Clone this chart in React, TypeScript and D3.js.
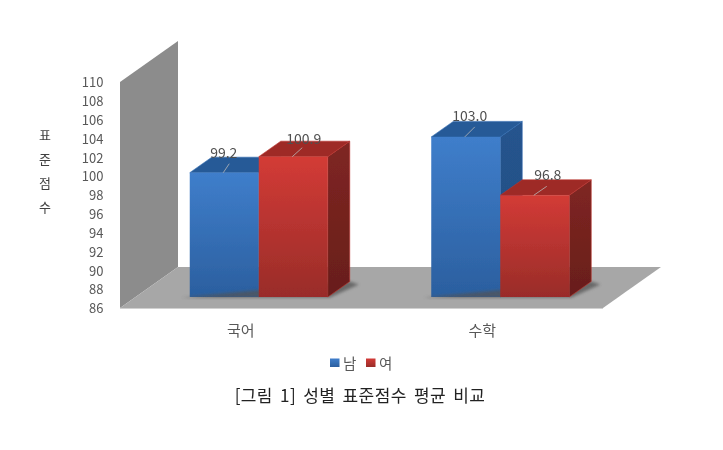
import React, {useEffect, useRef} from 'react';
import * as d3 from 'd3';

const categories = ['국어', '수학'];
const seriesNames = ['남', '여'];
const maleValues = [99.2, 103.0];
const femaleValues = [100.9, 96.8];
const yTicks = [86, 88, 90, 92, 94, 96, 98, 100, 102, 104, 106, 108, 110];
const yTitle = ['표', '준', '점', '수'];
const caption = '[그림 1] 성별 표준점수 평균 비교';

const fontFamily = '"Noto Sans CJK KR", "Liberation Sans", sans-serif';
const textColor = '#585858';

// wall/floor depth and the shift of the bars into the box
const depthX = 58;
const depthY = -41;
const barShiftX = 18;
const barShiftY = -11;
const barDepthX = 22;
const barDepthY = -15.5;

// hand placed data labels in the original: [dx, dy] from the middle of each bar top
const labelOffsets = [[[-0.5, -15], [10.5, -13]], [[4, -16], [13, -15]]];
const leaderEnds = [[[6, -9], [10, -9]], [[10, -10], [13, -9]]];

const palettes = [
  {top: '#3f7ecb', bottom: '#2b5f9f', lid: '#265a97', side: '#25548e',
    sideLow: '#234d80', edge: '#2f69b0'},
  {top: '#d33b36', bottom: '#992c29', lid: '#9e2a26', side: '#7f2622',
    sideLow: '#681e1b', edge: '#bb332e'},
];

function poly(points: Array<[number, number]>) {
  return d3.line()(points) + 'Z';
}

export default function App() {
  const ref = useRef<SVGSVGElement>(null);

  useEffect(() => {
    const svg = d3.select(ref.current);
    svg.selectAll('*').remove();

    const x = d3.scaleBand<string>().domain(categories).range([120, 603]);
    const y = d3.scaleLinear().domain([86, 110]).range([308, 82]);
    const inner = d3.scaleBand<string>()
        .domain(seriesNames)
        .range([0, x.bandwidth()])
        .paddingInner(0)
        .paddingOuter(0.75);

    const defs = svg.append('defs');
    const soft = defs.append('filter').attr('id', 'soft')
        .attr('x', '-5%').attr('y', '-5%')
        .attr('width', '110%').attr('height', '110%');
    soft.append('feGaussianBlur').attr('stdDeviation', 0.5);
    const shadowBlur = defs.append('filter').attr('id', 'shadowBlur');
    shadowBlur.append('feGaussianBlur').attr('stdDeviation', 1.5);

    palettes.forEach((p, i) => {
      const front = defs.append('linearGradient').attr('id', `front${i}`)
          .attr('x1', 0).attr('y1', 0).attr('x2', 0).attr('y2', 1);
      front.append('stop').attr('offset', '0%').attr('stop-color', p.top);
      front.append('stop').attr('offset', '100%').attr('stop-color', p.bottom);
      const side = defs.append('linearGradient').attr('id', `side${i}`)
          .attr('x1', 0).attr('y1', 0).attr('x2', 0).attr('y2', 1);
      side.append('stop').attr('offset', '0%').attr('stop-color', p.side);
      side.append('stop').attr('offset', '100%').attr('stop-color', p.sideLow);
    });

    const root = svg.append('g').attr('filter', 'url(#soft)');

    const [x0, x1] = x.range();
    const y0 = y(86);
    const yTop = y(110);

    // back wall and floor
    root.append('path')
        .attr('d', poly([[x0, y0], [x0, yTop], [x0 + depthX, yTop + depthY],
          [x0 + depthX, y0 + depthY]]))
        .attr('fill', '#8c8c8c');
    root.append('path')
        .attr('d', poly([[x0, y0], [x1, y0], [x1 + depthX, y0 + depthY],
          [x0 + depthX, y0 + depthY]]))
        .attr('fill', '#a7a7a7');
    root.append('line')
        .attr('x1', x0).attr('x2', x1).attr('y1', y0 + 0.5).attr('y2', y0 + 0.5)
        .attr('stroke', '#d0d0d0').attr('stroke-width', 1);

    // y ticks
    const axis = root.append('g')
        .attr('transform', 'translate(103.5,0.5)')
        .call(d3.axisLeft(y).tickValues(yTicks).tickSize(0).tickPadding(0));
    axis.select('.domain').remove();
    axis.selectAll('text')
        .attr('font-family', fontFamily)
        .attr('font-size', 13)
        .attr('fill', textColor);

    // y title, one character per line
    root.append('g').selectAll('text').data(yTitle).join('text')
        .attr('x', 45)
        .attr('y', (d, i) => 135 + i * 24.2)
        .attr('dy', '0.35em')
        .attr('text-anchor', 'middle')
        .attr('font-family', fontFamily)
        .attr('font-size', 13)
        .attr('fill', '#404040')
        .text((d) => d);

    // bars
    const series = [maleValues, femaleValues];
    categories.forEach((cat, c) => {
      seriesNames.forEach((name, s) => {
        const value = series[s][c];
        const left = x(cat)! + inner(name)! + barShiftX;
        const right = left + inner.bandwidth();
        const base = y(86) + barShiftY;
        const top = y(value) + barShiftY;
        const g = root.append('g');

        // floor shadow
        if (s === 1) {
          g.append('path')
              .attr('d', poly([[left - inner.bandwidth() - 8, base + 0.5], [right + 2, base + 0.5],
                [right + barDepthX + 9, base + barDepthY + 3], [right + barDepthX, base + barDepthY]]))
              .attr('fill', '#555555')
              .attr('opacity', 0.75)
              .attr('filter', 'url(#shadowBlur)');
        }
        g.append('path')
            .attr('d', poly([[right, base], [right, top],
              [right + barDepthX, top + barDepthY], [right + barDepthX, base + barDepthY]]))
            .attr('fill', `url(#side${s})`)
            .attr('stroke', palettes[s].edge)
            .attr('stroke-width', 0.6);
        g.append('path')
            .attr('d', poly([[left, top], [right, top],
              [right + barDepthX, top + barDepthY], [left + barDepthX, top + barDepthY]]))
            .attr('fill', palettes[s].lid)
            .attr('stroke', palettes[s].edge)
            .attr('stroke-width', 0.6);
        g.append('rect')
            .attr('x', left).attr('y', top)
            .attr('width', inner.bandwidth()).attr('height', base - top)
            .attr('fill', `url(#front${s})`);
      });
    });

    // value labels with their little leader lines
    categories.forEach((cat, c) => {
      seriesNames.forEach((name, s) => {
        const value = series[s][c];
        const mid = x(cat)! + inner(name)! + barShiftX + inner.bandwidth() / 2;
        const top = y(value) + barShiftY;
        const [lx, ly] = labelOffsets[c][s];
        const [ex, ey] = leaderEnds[c][s];
        root.append('line')
            .attr('x1', mid - 1).attr('y1', top)
            .attr('x2', mid - 1 + ex).attr('y2', top + ey)
            .attr('stroke', '#b9b9b9').attr('stroke-width', 0.8);
        root.append('text')
            .attr('x', mid + lx)
            .attr('y', top + ly)
            .attr('text-anchor', 'middle')
            .attr('font-family', fontFamily)
            .attr('font-size', 14)
            .attr('fill', '#505050')
            .text(value.toFixed(1));
      });
    });

    // category labels
    root.append('g').selectAll('text').data(categories).join('text')
        .attr('x', (d) => x(d)! + x.bandwidth() / 2)
        .attr('y', 331)
        .attr('dy', '0.35em')
        .attr('text-anchor', 'middle')
        .attr('font-family', fontFamily)
        .attr('font-size', 15)
        .attr('fill', textColor)
        .text((d) => d);

    // legend
    const legend = root.append('g');
    seriesNames.forEach((name, s) => {
      const lx = 330 + s * 36;
      legend.append('rect')
          .attr('x', lx).attr('y', 358.5)
          .attr('width', 9.5).attr('height', 8.5)
          .attr('fill', `url(#front${s})`);
      legend.append('text')
          .attr('x', lx + 13).attr('y', 364)
          .attr('dy', '0.35em')
          .attr('font-family', fontFamily)
          .attr('font-size', 14.5)
          .attr('fill', textColor)
          .text(name);
    });

    // caption
    root.append('text')
        .attr('x', 360).attr('y', 396.5)
        .attr('dy', '0.35em')
        .attr('text-anchor', 'middle')
        .attr('font-family', fontFamily)
        .attr('font-size', 17)
        .attr('letter-spacing', 0.4)
        .attr('word-spacing', 3)
        .attr('fill', '#222222')
        .text(caption);
  }, []);

  return (
    <svg ref={ref} width={723} height={450}
      style={{position: 'absolute', left: 0, top: 0, background: '#fff'}} />
  );
}
